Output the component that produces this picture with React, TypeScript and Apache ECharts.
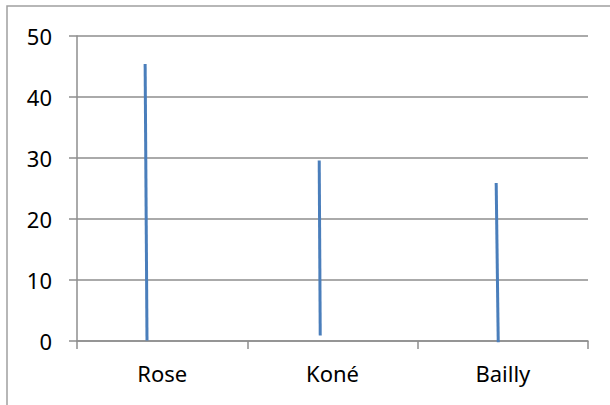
import React, { useEffect, useRef } from "react";
import * as echarts from "echarts";

const categories = ["Rose", "Koné", "Bailly"];
const yTicks = [0, 10, 20, 30, 40, 50];
// each drawn line: x position (in category units, 0..3) at bottom and top, and bottom/top values
const xBottom = [0.411, 1.428, 2.473];
const xTop = [0.4, 1.422, 2.461];
const lowValues = [0.1, 0.9, -0.2];
const highValues = [45.4, 29.6, 25.9];

export default function App() {
  const ref = useRef<HTMLDivElement>(null);
  useEffect(() => {
    if (!ref.current) return;
    const chart = echarts.init(ref.current, undefined, { renderer: "svg" });
    const font = "'Noto Sans', sans-serif";
    const gridColor = "#8e8e8e";
    chart.setOption({
      animation: false,
      backgroundColor: "#ffffff",
      grid: { left: 77, top: 36, right: 22, bottom: 64, containLabel: false },
      graphic: [
        {
          type: "rect",
          shape: { x: 7, y: 6, width: 700, height: 500 },
          style: { fill: "none", stroke: "#a0a0a0", lineWidth: 1.5 },
          silent: true,
          z: 100,
        },
      ],
      xAxis: [
        {
          type: "category",
          data: categories,
          boundaryGap: true,
          axisLine: { show: true, lineStyle: { color: gridColor, width: 1.5 } },
          axisTick: { show: true, length: 8, lineStyle: { color: gridColor, width: 1.5 } },
          axisLabel: { color: "#000", fontSize: 22, fontFamily: font, margin: 21 },
          splitLine: { show: false },
        },
        {
          type: "value",
          min: 0,
          max: 3,
          show: false,
        },
      ],
      yAxis: {
        type: "value",
        min: yTicks[0],
        max: yTicks[yTicks.length - 1],
        interval: 10,
        axisLine: { show: true, lineStyle: { color: gridColor, width: 1.5 } },
        axisTick: { show: true, length: 8, lineStyle: { color: gridColor, width: 1.5 } },
        axisLabel: { color: "#000", fontSize: 22, fontFamily: font, margin: 25 },
        splitLine: { show: true, lineStyle: { color: gridColor, width: 1.5 } },
      },
      series: [
        {
          type: "custom",
          xAxisIndex: 1,
          yAxisIndex: 0,
          data: categories.map((_, i) => [xBottom[i], xTop[i], lowValues[i], highValues[i]]),
          encode: { x: [0, 1], y: [2, 3] },
          renderItem: (params: any, api: any) => {
            const p1 = api.coord([api.value(0), api.value(2)]);
            const p2 = api.coord([api.value(1), api.value(3)]);
            return {
              type: "line",
              shape: { x1: p1[0], y1: p1[1], x2: p2[0], y2: p2[1] },
              style: { stroke: "#4a7ebb", lineWidth: 3 },
            };
          },
          z: 10,
        },
      ],
    });
    return () => chart.dispose();
  }, []);
  return (
    <div
      ref={ref}
      style={{ position: "absolute", left: 0, top: 0, width: 610, height: 405 }}
    />
  );
}
